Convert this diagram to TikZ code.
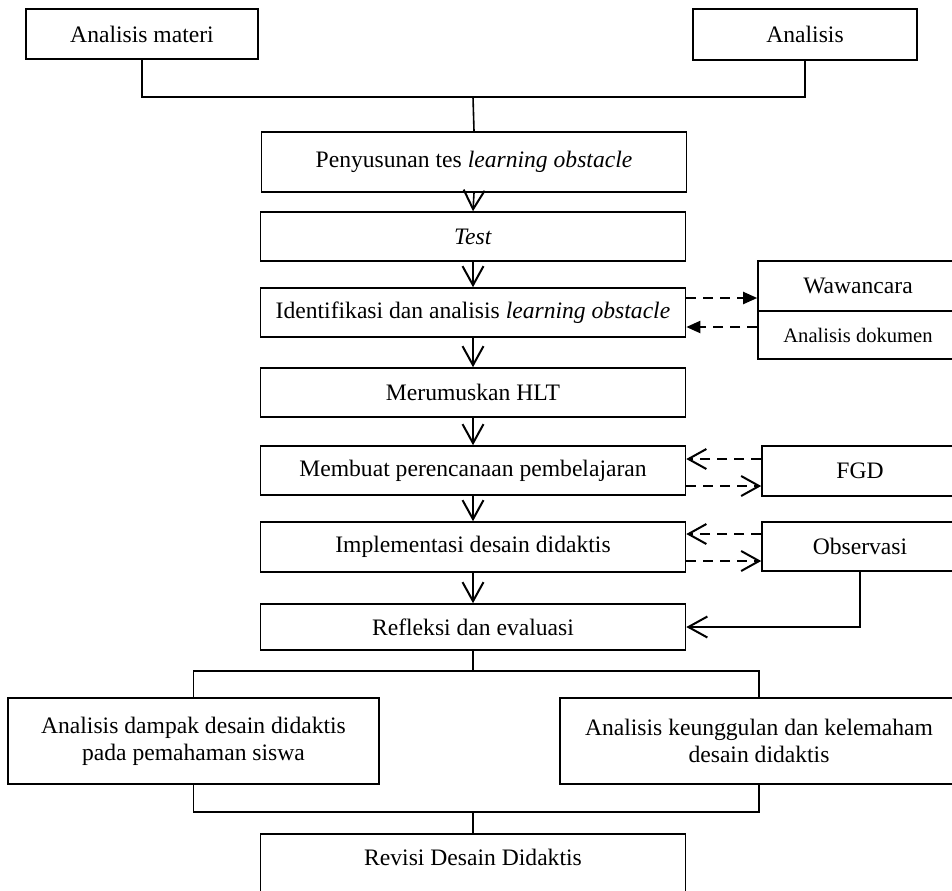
\documentclass[tikz,border=0pt]{standalone}
\usepackage{fontspec}
\setmainfont{Liberation Serif}
\usepackage{tikz}
\usetikzlibrary{arrows.meta}

\begin{document}
\begin{tikzpicture}[x=0.5pt, y=-0.5pt, font=\fontsize{11.8}{13.5}\selectfont,
  box/.style={draw, line width=.8pt, inner sep=0pt, align=center},
  mainbox/.style={box, minimum width=212.5pt, minimum height=24.5pt},
  conn/.style={line width=.8pt},
  flowarrow/.style={line width=.8pt, -{Straight Barb[length=9.5pt,width=10.5pt,line width=1pt]}},
  dasharrow/.style={line width=1pt, dash pattern=on 5pt off 3.5pt, -{Straight Barb[length=9pt,width=10pt,line width=1pt]}},
  dashtri/.style={line width=1pt, dash pattern=on 5pt off 3.5pt, -{Triangle[length=7pt,width=6pt]}}]
 \useasboundingbox[fill=white] (0,0) rectangle (952,890);
 \clip (0,0) rectangle (952,890);
\node[box, minimum width=116pt, minimum height=25pt] (mat) at (142,34) {Analisis materi};
\node[box, minimum width=112pt, minimum height=25.5pt] (ana) at (805,34.5) {Analisis};
\node[mainbox, minimum height=30pt] (tes) at (474,162) {Penyusunan tes \textit{learning obstacle}};
\node[mainbox] (tst) at (473,236.5) {\textit{Test}};
\node[mainbox] (idn) at (473,312.5) {Identifikasi dan analisis \textit{learning obstacle}};
\node[mainbox] (hlt) at (473,392.5) {Merumuskan HLT};
\node[mainbox] (rpp) at (473,470.5) {Membuat perencanaan pembelajaran};
\node[mainbox, minimum height=25pt] (imp) at (473,547) {Implementasi desain didaktis};
\node[mainbox, minimum height=23pt] (ref) at (473,627) {Refleksi dan evaluasi};
\node[box, minimum width=185.5pt, minimum height=43pt] (dmp) at (193.5,741) {Analisis dampak desain didaktis\\pada pemahaman siswa};
\node[box, minimum width=199pt, minimum height=43pt] (ung) at (759,741) {Analisis keunggulan dan kelemaham\\desain didaktis};
\node[mainbox, anchor=north, text height=16pt, text depth=40pt] (rev) at (473,833) {Revisi Desain Didaktis};
\node[box, minimum width=100pt, minimum height=25pt] (wwc) at (858,286) {Wawancara};
\node[box, minimum width=100pt, minimum height=24pt, font=\fontsize{10.3}{12}\selectfont] (dok) at (858,335) {Analisis dokumen};
\node[box, minimum width=98pt, minimum height=25pt] (fgd) at (860,471) {FGD};
\node[box, minimum width=98pt, minimum height=24.5pt] (obs) at (860,546.5) {Observasi};
 \coordinate (top) at (473,97);
 \draw[conn] (mat.south) |- (top) -| (ana.south);
 \draw[conn] (top) -- (tes.north);
 \foreach \a/\b in {tes/tst, tst/idn, idn/hlt, hlt/rpp, rpp/imp, imp/ref}
  \draw[flowarrow] (\a.south) -- (\b.north);
 \draw[dashtri] (idn.east |- 0,298) -- (wwc.west |- 0,298);
 \draw[dashtri] (dok.west |- 0,327) -- (idn.east |- 0,327);
 \draw[dasharrow] (fgd.west |- 0,459) -- (rpp.east |- 0,459);
 \draw[dasharrow] (rpp.east |- 0,486) -- (fgd.west |- 0,486);
 \draw[dasharrow] (obs.west |- 0,534) -- (imp.east |- 0,534);
 \draw[dasharrow] (imp.east |- 0,561) -- (obs.west |- 0,561);
 \draw[flowarrow] (obs.south) |- (ref.east);
 \coordinate (mid) at (473,671);
 \draw[conn] (ref.south) -- (mid);
 \draw[conn] (dmp.north) |- (mid) -| (ung.north);
 \coordinate (low) at (473,812);
 \draw[conn] (dmp.south) |- (low) -| (ung.south);
 \draw[conn] (low) -- (rev.north);
\end{tikzpicture}
\end{document}
